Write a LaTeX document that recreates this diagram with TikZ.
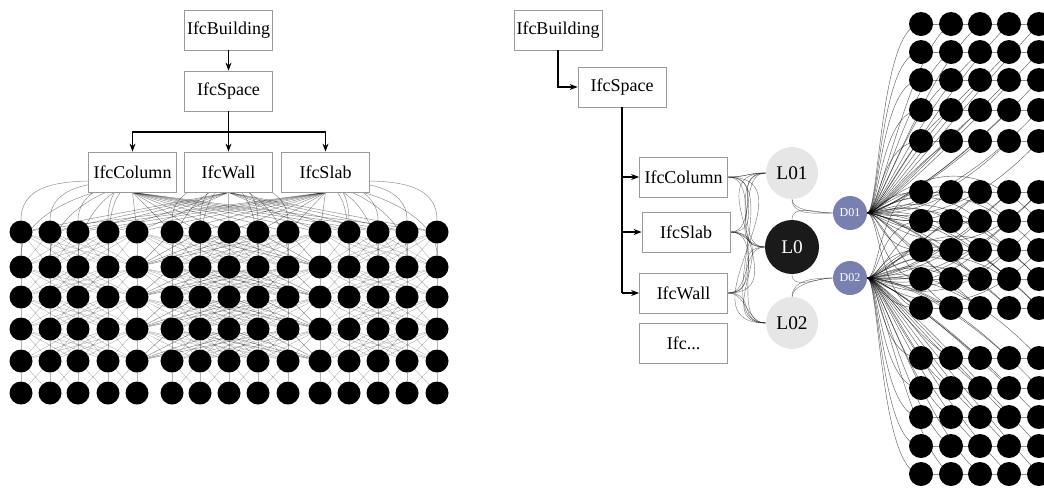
\documentclass[tikz,border=0pt]{standalone}
\usepackage{fontspec}
\setmainfont{Liberation Serif}
\usetikzlibrary{arrows.meta,backgrounds}
\definecolor{boxgray}{HTML}{9A9A9A}
\definecolor{lgray}{HTML}{E6E6E6}
\definecolor{ldark}{HTML}{1A1A1A}
\definecolor{dblue}{HTML}{7880B0}
\begin{document}
\begin{tikzpicture}[x=0.75pt,y=-0.75pt,
  ibox/.style={draw=boxgray, line width=0.6pt, fill=white, minimum width=66pt, minimum height=30pt, inner sep=0pt, font=\fontsize{13.5}{15}\selectfont},
  ldot/.style={circle, fill=black, minimum size=17.25pt, inner sep=0pt},
  rdot/.style={circle, fill=black, minimum size=18pt, inner sep=0pt},
  arr/.style={line width=0.8pt, -{Stealth[length=6pt,width=4.5pt]}},
  trunk/.style={line width=0.8pt},
  web/.style={draw=black, line width=0.3pt, opacity=0.3},
  bweb/.style={draw=black, line width=0.35pt, opacity=0.45},
  aweb/.style={draw=black, line width=0.35pt, opacity=0.45},
  lweb/.style={draw=black, line width=0.3pt, opacity=0.55},
  dweb/.style={draw=black, line width=0.35pt, opacity=0.6},
  lnode/.style={circle, inner sep=0pt, font=\fontsize{14.5}{16}\selectfont},
  dnode/.style={circle, fill=dblue, text=white, minimum size=25.5pt, inner sep=0pt, font=\fontsize{9}{10}\selectfont}]
\useasboundingbox (0,0) rectangle (1044,487);

% ---------------- left diagram ----------------
\node[ibox] (lB) at (228.5,30) {IfcBuilding};
\node[ibox] (lS) at (228.5,91) {IfcSpace};
\node[ibox] (lC) at (132.5,172) {IfcColumn};
\node[ibox] (lW) at (228.5,172) {IfcWall};
\node[ibox] (lL) at (325.5,172) {IfcSlab};
\coordinate (lj) at (228.5,132);

\draw[arr] (lB) -- (lS);
\draw[trunk] (lS) -- (lj);
\draw[arr] (lj) -| (lC);
\draw[arr] (lj) -| (lL);
\draw[arr] (lj) -- (lW);

\foreach \x [count=\i] in {21,50,78,108,137,172,200,229,258,288,320,349,378,407,437}
  \foreach \y [count=\j] in {232,267,297,329,361,393}
    \node[ldot] (a-\j-\i) at (\x,\y) {};

\begin{scope}[on background layer]
  % row to row inside groups
  \foreach \j in {1,...,5} {
    \pgfmathtruncatemacro\jn{\j+1}
    \pgfmathtruncatemacro\span{\j==5 ? 1 : 4}
    \foreach \g in {0,5,10} {
      \foreach \p in {1,...,5} {
        \foreach \q in {1,...,5} {
          \pgfmathtruncatemacro\ia{\g+\p}
          \pgfmathtruncatemacro\ib{\g+\q}
          \pgfmathtruncatemacro\dd{abs(\p-\q)}
          \ifnum\dd>\span\else
            \draw[web] (a-\j-\ia) -- (a-\jn-\ib);
          \fi
        }
      }
    }
  }
  % bundles between the groups
  \foreach \j in {1,...,4} {
    \pgfmathtruncatemacro\jn{\j+1}
    \foreach \i in {6,...,10} {
      \draw[bweb] (a-\jn-5) -- (a-\j-\i);
      \draw[bweb] (a-\jn-11) -- (a-\j-\i);
      \draw[web] (a-\jn-\i) -- (a-\j-5);
      \draw[web] (a-\jn-\i) -- (a-\j-11);
    }
  }
  % box to top rows
  \foreach \i in {1,...,4} {
    \draw[aweb] ([yshift=-7pt]lC.center) to[out=180,in=90] (a-1-\i);
    \draw[aweb] ([yshift=-11pt]lC.center) to[out=180,in=90,looseness=0.8] (a-2-\i);
  }
  \draw[aweb] (lC.south) -- (a-1-5);
  \foreach \i in {6,...,15} \draw[aweb] (lC.south) -- (a-1-\i);
  \foreach \i in {6,7} {
    \draw[aweb] ([yshift=-7pt]lW.center) to[out=180,in=90] (a-1-\i);
    \draw[aweb] ([yshift=-11pt]lW.center) to[out=180,in=90,looseness=0.8] (a-2-\i);
  }
  \foreach \i in {9,10} {
    \draw[aweb] ([yshift=-7pt]lW.center) to[out=0,in=90] (a-1-\i);
    \draw[aweb] ([yshift=-11pt]lW.center) to[out=0,in=90,looseness=0.8] (a-2-\i);
  }
  \draw[aweb] (lW.south) -- (a-1-8);
  \foreach \i in {1,...,5,11,12,13,14,15} \draw[aweb] (lW.south) -- (a-1-\i);
  \foreach \i in {12,...,15} {
    \draw[aweb] ([yshift=-7pt]lL.center) to[out=0,in=90] (a-1-\i);
    \draw[aweb] ([yshift=-11pt]lL.center) to[out=0,in=90,looseness=0.8] (a-2-\i);
  }
  \draw[aweb] (lL.south) -- (a-1-11);
  \foreach \i in {1,...,10} \draw[aweb] (lL.south) -- (a-1-\i);
\end{scope}

% ---------------- right diagram ----------------
\node[ibox] (rB) at (558,30) {IfcBuilding};
\node[ibox] (rS) at (622,87) {IfcSpace};
\node[ibox] (rC) at (683.5,177) {IfcColumn};
\node[ibox] (rL) at (686,232) {IfcSlab};
\node[ibox] (rW) at (683.5,293) {IfcWall};
\node[ibox] (rX) at (683.5,343) {Ifc...};

\draw[arr] (rB) |- (rS);
\draw[trunk] (rS) -- (rS.south |- rW.west);
\draw[arr] (rS.south |- rC.west) -- (rC);
\draw[arr] (rS.south |- rL.west) -- (rL);
\draw[arr] (rS.south |- rW.west) -- (rW);

\node[lnode, fill=lgray, minimum size=39pt] (L01) at (792,173) {L01};
\node[lnode, fill=ldark, text=white, minimum size=40.5pt] (L0) at (792,247) {L0};
\node[lnode, fill=lgray, minimum size=39pt] (L02) at (792,323) {L02};
\node[dnode] (D01) at (850,213) {D01};
\node[dnode] (D02) at (850,278) {D02};

\foreach \x [count=\i] in {921,951,980,1009,1039}
  \foreach \y [count=\j] in {24,52,80,110,141,192,221,250,279,308,358,388,417,446,474}
    \node[rdot] (b-\j-\i) at (\x,\y) {};

\begin{scope}[on background layer]
  \foreach \b in {rC,rL,rW}
    \foreach \l in {L01,L0,L02} {
      \draw[lweb] (\b.east) to[out=0,in=180] (\l.west);
      \draw[lweb] (\b.east) to[out=0,in=180,looseness=1.5] (\l.west);
    }
  \draw[lweb] (L01.south) to[out=-90,in=180] (D01.west);
  \draw[lweb] (L0.north) to[out=90,in=180] (D01.west);
  \draw[lweb] (L0.south) to[out=-90,in=180] (D02.west);
  \draw[lweb] (L02.north) to[out=90,in=180] (D02.west);
  \draw[lweb] (L01.south) to[out=-90,in=180,looseness=0.7] (D01.west);
  \draw[lweb] (L02.north) to[out=90,in=180,looseness=0.7] (D02.west);
  % horizontal links in the grid
  \foreach \j in {1,...,15}
    \foreach \i in {1,...,4} {
      \pgfmathtruncatemacro\in{\i+1}
      \draw[web, opacity=0.45] (b-\j-\i) -- (b-\j-\in);
    }
  % D01 to upper two blocks
  \foreach \j/\y in {1/24,2/52,3/80,4/110,5/141,6/192,7/221,8/250,9/279,10/308}
    \foreach \i in {1,...,5} {
      \pgfmathsetmacro\cx{-(43+(\i-1)*29.5)*(\i==1 ? 0.95 : 0.55)}
      \pgfmathsetmacro\cy{(\y<213 ? 1 : -1)*(\i-1)*24}
      \draw[dweb] (D01.east) .. controls +(12,0) and +(\cx,\cy) .. (b-\j-\i.center);
    }
  % D02 to lower two blocks
  \foreach \j/\y in {6/192,7/221,8/250,9/279,10/308,11/358,12/388,13/417,14/446,15/474}
    \foreach \i in {1,...,5} {
      \pgfmathsetmacro\cx{-(43+(\i-1)*29.5)*(\i==1 ? 0.95 : 0.55)}
      \pgfmathsetmacro\cy{(\y<278 ? 1 : -1)*(\i-1)*24}
      \draw[dweb] (D02.east) .. controls +(12,0) and +(\cx,\cy) .. (b-\j-\i.center);
    }
\end{scope}
\end{tikzpicture}
\end{document}
